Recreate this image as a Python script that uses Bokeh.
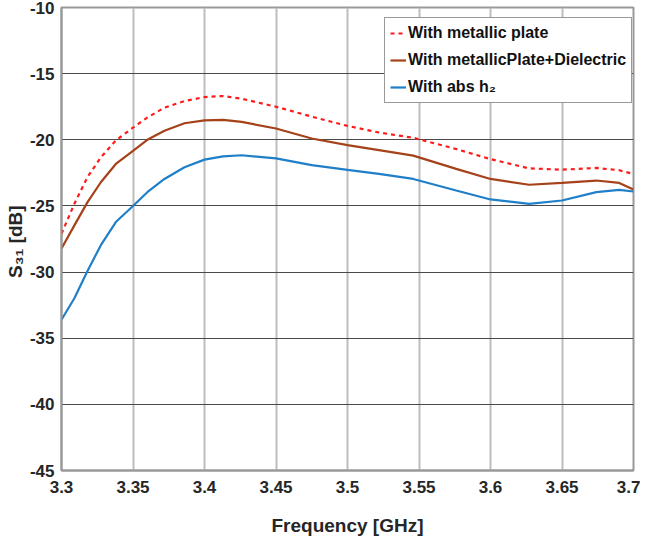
from bokeh.plotting import figure
from bokeh.models import FixedTicker, Range1d, Legend, LegendItem
from bokeh.embed import file_html
from bokeh.resources import INLINE

freq = [3.300, 3.309, 3.318, 3.3275, 3.338, 3.350, 3.360, 3.372, 3.386, 3.400,
        3.413, 3.426, 3.450, 3.475, 3.500, 3.522, 3.546, 3.576, 3.600, 3.627,
        3.650, 3.674, 3.690, 3.700]
s_metal = [-27.1, -24.84, -22.85, -21.33, -20.05, -19.08, -18.32, -17.57, -17.07, -16.77,
           -16.69, -16.9, -17.5, -18.25, -18.95, -19.45, -19.85, -20.7, -21.46, -22.16,
           -22.26, -22.13, -22.3, -22.58]
s_metal_diel = [-28.22, -26.47, -24.75, -23.21, -21.83, -20.83, -20.0, -19.32, -18.75, -18.53,
                -18.5, -18.65, -19.15, -19.9, -20.4, -20.78, -21.2, -22.2, -22.96, -23.4,
                -23.26, -23.08, -23.26, -23.76]
s_abs = [-33.6, -31.98, -29.95, -27.97, -26.22, -25.0, -23.96, -22.96, -22.08, -21.5,
         -21.25, -21.17, -21.4, -21.92, -22.28, -22.58, -22.96, -23.83, -24.51, -24.84,
         -24.59, -23.96, -23.79, -23.91]

x_ticks = [3.3, 3.35, 3.4, 3.45, 3.5, 3.55, 3.6, 3.65, 3.7]
x_tick_labels = ["3.3", "3.35", "3.4", "3.45", "3.5", "3.55", "3.6", "3.65", "3.7"]
y_ticks = [-45, -40, -35, -30, -25, -20, -15, -10]
y_tick_labels = ["-45", "-40", "-35", "-30", "-25", "-20", "-15", "-10"]
series_names = ["With metallic plate", "With metallicPlate+Dielectric", "With abs h\u2082"]

FONT = "Liberation Sans Narrow, Liberation Sans, Arial"

p = figure(width=640, height=538, output_backend="svg", toolbar_location=None,
           x_range=Range1d(3.3, 3.7), y_range=Range1d(-45, -10),
           min_border_left=61, min_border_right=7, min_border_top=7, min_border_bottom=68)

p.xaxis.ticker = FixedTicker(ticks=x_ticks)
p.yaxis.ticker = FixedTicker(ticks=y_ticks)
p.xaxis.major_label_overrides = {t: l for t, l in zip(x_ticks, x_tick_labels)}
p.yaxis.major_label_overrides = {t: l for t, l in zip(y_ticks, y_tick_labels)}

for ax in (p.xaxis[0], p.yaxis[0]):
    ax.major_label_text_font = FONT
    ax.major_label_text_font_style = "bold"
    ax.major_label_text_font_size = "17px"
    ax.major_label_text_color = "#262626"
    ax.axis_label_text_font = FONT
    ax.axis_label_text_font_style = "bold"
    ax.axis_label_text_font_size = "19px"
    ax.axis_label_text_color = "#262626"
    ax.major_tick_line_color = None
    ax.minor_tick_line_color = None
    ax.axis_line_color = "#999999"
    ax.axis_line_width = 2

p.xaxis.axis_label = "Frequency [GHz]"
p.yaxis.axis_label = "S\u2083\u2081  [dB]"
p.xaxis.major_label_standoff = 4
p.yaxis.major_label_standoff = 1
p.xaxis.axis_label_standoff = 19
p.yaxis.axis_label_standoff = 1

p.xgrid.grid_line_color = "#bdbdbd"
p.xgrid.grid_line_width = 2
p.ygrid.grid_line_color = "#4a4a4a"
p.ygrid.grid_line_width = 1.2

p.outline_line_color = "#999999"
p.outline_line_width = 2
p.background_fill_color = "white"
p.border_fill_color = "white"

r1 = p.line(freq, s_metal, line_color="#ff1a1a", line_width=2.2, line_dash="4 4")
r2 = p.line(freq, s_metal_diel, line_color="#a5421a", line_width=2.2)
r3 = p.line(freq, s_abs, line_color="#1f7fc8", line_width=2.2)

legend = Legend(items=[LegendItem(label=series_names[0], renderers=[r1]),
                       LegendItem(label=series_names[1], renderers=[r2]),
                       LegendItem(label=series_names[2], renderers=[r3])],
                location=(323, 367))
legend.label_text_font = FONT
legend.label_text_font_style = "bold"
legend.label_text_font_size = "16px"
legend.label_text_color = "#111111"
legend.glyph_width = 16
legend.label_standoff = 2
legend.spacing = 7
legend.padding = 5
legend.margin = 0
legend.border_line_color = "#333333"
legend.border_line_width = 1
legend.background_fill_alpha = 1
p.add_layout(legend)

open("out.html", "w").write(file_html(p, INLINE))
